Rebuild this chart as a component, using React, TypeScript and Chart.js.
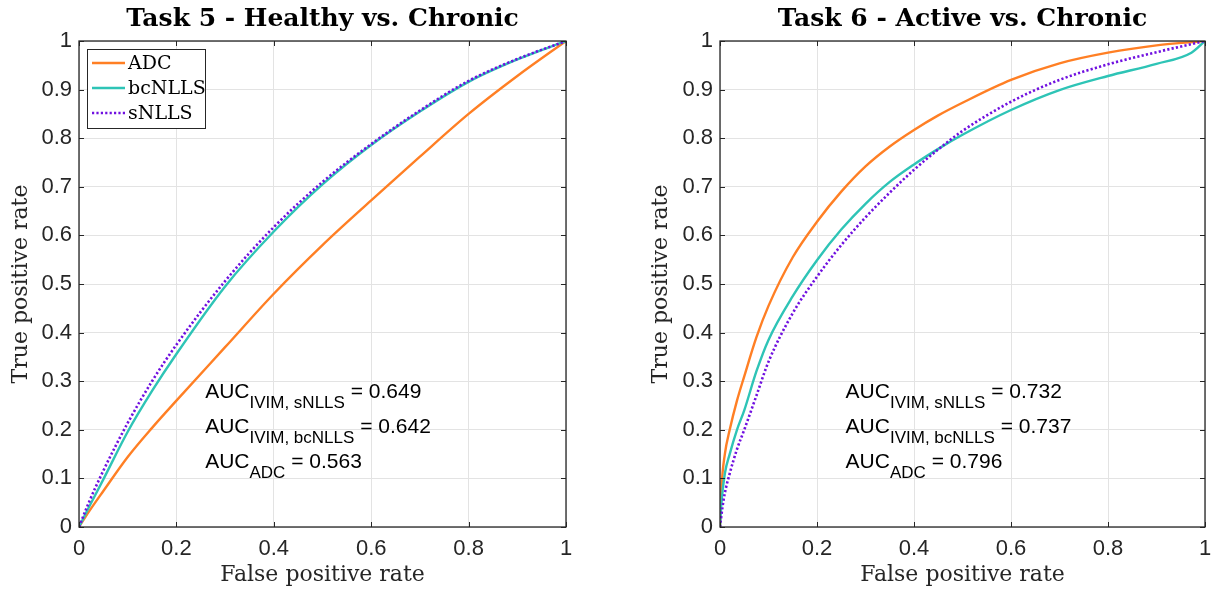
import React, { useEffect, useRef } from 'react';
import { Chart, registerables } from 'chart.js';

Chart.register(...registerables);

// ---------- data ----------
const seriesNames = ['ADC', 'bcNLLS', 'sNLLS'];
const seriesColors = ['#FF7F24', '#2EC4B6', '#7010E0'];
const xTickLabels = ['0', '0.2', '0.4', '0.6', '0.8', '1'];
const yTickLabels = ['0', '0.1', '0.2', '0.3', '0.4', '0.5', '0.6', '0.7', '0.8', '0.9', '1'];

const titles = ['Task 5 - Healthy vs. Chronic', 'Task 6 - Active vs. Chronic'];
const xAxisTitle = 'False positive rate';
const yAxisTitle = 'True positive rate';

// Task 5
const t5AdcFpr = [0, 0.02, 0.05, 0.1, 0.15, 0.2, 0.3, 0.4, 0.5, 0.6, 0.7, 0.8, 0.9, 1];
const t5AdcTpr = [0, 0.031, 0.074, 0.144, 0.204, 0.26, 0.37, 0.48, 0.58, 0.672, 0.762, 0.85, 0.928, 1];
const t5BcFpr = [0, 0.02, 0.05, 0.1, 0.15, 0.2, 0.3, 0.4, 0.5, 0.6, 0.7, 0.8, 0.9, 1];
const t5BcTpr = [0, 0.04, 0.098, 0.196, 0.28, 0.356, 0.495, 0.608, 0.705, 0.786, 0.855, 0.916, 0.962, 1];
const t5SFpr = [0, 0.02, 0.05, 0.1, 0.15, 0.2, 0.3, 0.4, 0.5, 0.6, 0.7, 0.8, 0.9, 1];
const t5STpr = [0, 0.05, 0.116, 0.214, 0.3, 0.375, 0.506, 0.617, 0.71, 0.788, 0.857, 0.918, 0.963, 1];

// Task 6
const t6AdcFpr = [0, 0.003, 0.01, 0.02, 0.035, 0.05, 0.075, 0.1, 0.15, 0.2, 0.25, 0.3, 0.35, 0.4, 0.45, 0.5, 0.6, 0.7, 0.8, 0.9, 1];
const t6AdcTpr = [0, 0.08, 0.15, 0.2, 0.26, 0.31, 0.39, 0.455, 0.555, 0.628, 0.69, 0.742, 0.783, 0.817, 0.847, 0.873, 0.92, 0.954, 0.976, 0.991, 1];
const t6BcFpr = [0, 0.003, 0.01, 0.02, 0.035, 0.05, 0.075, 0.1, 0.15, 0.2, 0.25, 0.3, 0.35, 0.4, 0.45, 0.5, 0.6, 0.7, 0.8, 0.9, 0.972, 1];
const t6BcTpr = [0, 0.05, 0.11, 0.15, 0.2, 0.24, 0.32, 0.385, 0.475, 0.549, 0.612, 0.665, 0.71, 0.746, 0.778, 0.807, 0.858, 0.899, 0.928, 0.953, 0.976, 1];
const t6SFpr = [0, 0.005, 0.01, 0.02, 0.035, 0.05, 0.075, 0.1, 0.15, 0.2, 0.25, 0.3, 0.35, 0.4, 0.45, 0.5, 0.6, 0.7, 0.8, 0.9, 1];
const t6STpr = [0, 0.04, 0.07, 0.11, 0.16, 0.2, 0.27, 0.34, 0.44, 0.515, 0.58, 0.637, 0.688, 0.735, 0.777, 0.815, 0.875, 0.92, 0.952, 0.977, 1];

const aucSubscripts = ['IVIM, sNLLS', 'IVIM, bcNLLS', 'ADC'];
const t5AucValues = ['0.649', '0.642', '0.563'];
const t6AucValues = ['0.732', '0.737', '0.796'];

// ---------- helpers ----------
const pts = (xs: number[], ys: number[]) => xs.map((x, i) => ({ x, y: ys[i] }));

const INK = '#262626';

const framePlugin = {
  id: 'frame',
  afterDraw(chart: any) {
    const { ctx, chartArea: ca, scales } = chart;
    ctx.save();
    ctx.strokeStyle = INK;
    ctx.lineWidth = 1;
    const tl = 5;
    scales.x.ticks.forEach((t: any) => {
      const px = Math.round(scales.x.getPixelForValue(t.value)) + 0.5;
      ctx.beginPath();
      ctx.moveTo(px, ca.bottom); ctx.lineTo(px, ca.bottom - tl);
      ctx.moveTo(px, ca.top); ctx.lineTo(px, ca.top + tl);
      ctx.stroke();
    });
    scales.y.ticks.forEach((t: any) => {
      const py = Math.round(scales.y.getPixelForValue(t.value)) + 0.5;
      ctx.beginPath();
      ctx.moveTo(ca.left, py); ctx.lineTo(ca.left + tl, py);
      ctx.moveTo(ca.right, py); ctx.lineTo(ca.right - tl, py);
      ctx.stroke();
    });
    ctx.lineWidth = 1.3;
    ctx.strokeRect(ca.left, ca.top, ca.right - ca.left, ca.bottom - ca.top);
    ctx.restore();
  },
};

const boxLegendPlugin = {
  id: 'boxLegend',
  afterDraw(chart: any, _args: any, opts: any) {
    if (!opts || !opts.show) return;
    const { ctx, chartArea: ca } = chart;
    const left = ca.left + 8;
    const top = ca.top + 8;
    const w = 118;
    const h = 79;
    ctx.save();
    ctx.fillStyle = '#ffffff';
    ctx.fillRect(left, top, w, h);
    ctx.strokeStyle = INK;
    ctx.lineWidth = 1;
    ctx.strokeRect(left + 0.5, top + 0.5, w, h);
    ctx.font = '19px "DejaVu Serif"';
    ctx.textBaseline = 'middle';
    chart.data.datasets.forEach((ds: any, i: number) => {
      const y = top + 14 + i * 25;
      ctx.strokeStyle = ds.borderColor;
      ctx.lineWidth = ds.borderWidth;
      ctx.setLineDash(ds.borderDash || []);
      ctx.beginPath();
      ctx.moveTo(left + 5, y);
      ctx.lineTo(left + 38, y);
      ctx.stroke();
      ctx.setLineDash([]);
      ctx.fillStyle = '#000';
      ctx.fillText(ds.label, left + 41, y + 1);
    });
    ctx.restore();
  },
};

const aucPlugin = {
  id: 'aucText',
  afterDraw(chart: any, _args: any, opts: any) {
    if (!opts || !opts.values) return;
    const { ctx, scales } = chart;
    const x0 = scales.x.getPixelForValue(opts.x);
    ctx.save();
    ctx.fillStyle = '#000';
    ctx.textBaseline = 'alphabetic';
    opts.values.forEach((v: string, i: number) => {
      const y = scales.y.getPixelForValue(opts.ys[i]);
      let x = x0;
      ctx.font = '21px "Liberation Sans", Arial, sans-serif';
      ctx.fillText('AUC', x, y);
      x += ctx.measureText('AUC').width;
      ctx.font = '17px "Liberation Sans", Arial, sans-serif';
      ctx.fillText(opts.subs[i], x, y + 10);
      x += ctx.measureText(opts.subs[i]).width;
      ctx.font = '21px "Liberation Sans", Arial, sans-serif';
      ctx.fillText(' = ' + v, x, y);
    });
    ctx.restore();
  },
};

function makeConfig(idx: number, series: { x: number[]; y: number[] }[], aucValues: string[], showLegend: boolean, padRight: number) {
  const orders = [3, 2, 1];
  return {
    type: 'line' as const,
    data: {
      datasets: series.map((s, i) => ({
        label: seriesNames[i],
        data: pts(s.x, s.y),
        borderColor: seriesColors[i],
        backgroundColor: seriesColors[i],
        borderWidth: i === 2 ? 2.6 : 2.4,
        borderDash: i === 2 ? [2.2, 2.2] : [],
        pointRadius: 0,
        fill: false,
        cubicInterpolationMode: 'monotone' as const,
        order: orders[i],
      })),
    },
    options: {
      animation: false as const,
      responsive: false,
      devicePixelRatio: 1,
      layout: { padding: { left: 0, right: padRight, top: 0, bottom: 0 } },
      plugins: {
        legend: { display: false },
        tooltip: { enabled: false },
        title: {
          display: true,
          text: titles[idx],
          fullSize: false,
          color: '#000',
          font: { family: '"DejaVu Serif"', size: 25, weight: 'bold' as const, lineHeight: 1.2 },
          padding: { top: 4, bottom: 7 },
        },
        boxLegend: { show: showLegend },
        aucText: { x: 0.259, ys: [0.265, 0.193, 0.121], subs: aucSubscripts, values: aucValues },
      },
      scales: {
        x: {
          type: 'linear' as const,
          min: 0,
          max: 1,
          afterFit: (scale: any) => {
            scale.height = 66;
            scale.paddingLeft = 0;
            scale.paddingRight = 0;
          },
          border: { display: false },
          grid: { color: '#e3e3e3', lineWidth: 1, drawTicks: false },
          ticks: {
            stepSize: 0.2,
            padding: 9,
            color: INK,
            font: { family: '"Liberation Sans", Arial, sans-serif', size: 22 },
            callback: (_v: any, i: number) => xTickLabels[i],
            maxRotation: 0,
          },
          title: {
            display: true,
            text: xAxisTitle,
            color: INK,
            font: { family: '"DejaVu Serif"', size: 22, lineHeight: 1.2 },
            padding: { top: 0, bottom: 5 },
          },
        },
        y: {
          type: 'linear' as const,
          min: 0,
          max: 1,
          afterFit: (scale: any) => {
            scale.width = idx === 0 ? 79 : 80;
            scale.paddingTop = 0;
            scale.paddingBottom = 0;
          },
          border: { display: false },
          grid: { color: '#e3e3e3', lineWidth: 1, drawTicks: false },
          ticks: {
            stepSize: 0.1,
            padding: 7,
            color: INK,
            font: { family: '"Liberation Sans", Arial, sans-serif', size: 22 },
            callback: (_v: any, i: number) => yTickLabels[i],
          },
          title: {
            display: true,
            text: yAxisTitle,
            color: INK,
            font: { family: '"DejaVu Serif"', size: 22, lineHeight: 1.2 },
            padding: { top: 8, bottom: 0 },
          },
        },
      },
    },
    plugins: [framePlugin, boxLegendPlugin, aucPlugin],
  };
}

function ChartCanvas(props: { cfg: any; width: number; height: number; left: number }) {
  const ref = useRef<HTMLCanvasElement | null>(null);
  useEffect(() => {
    if (!ref.current) return;
    const chart = new Chart(ref.current, props.cfg);
    return () => chart.destroy();
  }, []);
  return (
    <canvas
      ref={ref}
      width={props.width}
      height={props.height}
      style={{ position: 'absolute', left: props.left, top: 0, width: props.width, height: props.height }}
    />
  );
}

export default function App() {
  const cfg5 = makeConfig(
    0,
    [
      { x: t5AdcFpr, y: t5AdcTpr },
      { x: t5BcFpr, y: t5BcTpr },
      { x: t5SFpr, y: t5STpr },
    ],
    t5AucValues,
    true,
    74
  );
  const cfg6 = makeConfig(
    1,
    [
      { x: t6AdcFpr, y: t6AdcTpr },
      { x: t6BcFpr, y: t6BcTpr },
      { x: t6SFpr, y: t6STpr },
    ],
    t6AucValues,
    false,
    10
  );
  return (
    <div style={{ position: 'absolute', left: 0, top: 0, width: 1215, height: 593, background: '#fff', overflow: 'hidden' }}>
      <ChartCanvas cfg={cfg5} width={640} height={593} left={0} />
      <ChartCanvas cfg={cfg6} width={575} height={593} left={640} />
    </div>
  );
}
